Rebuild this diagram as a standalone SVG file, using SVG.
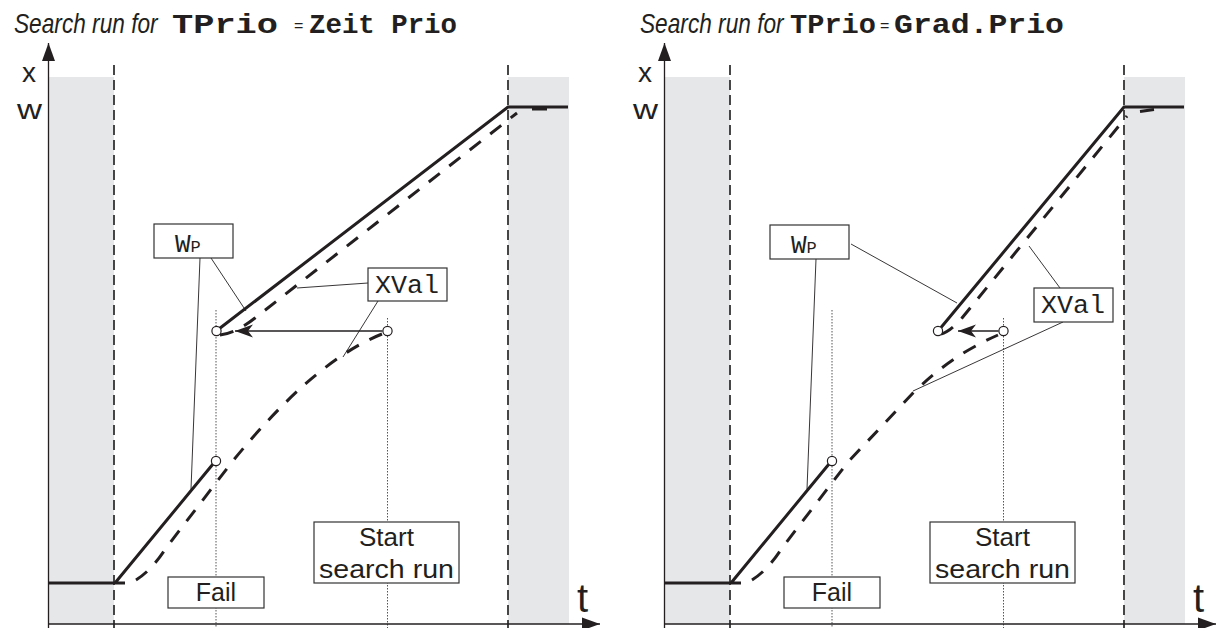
<svg xmlns="http://www.w3.org/2000/svg" width="1221" height="628" viewBox="0 0 1221 628">
<style>
.band{fill:#e6e7e8}
.axis{stroke:#231f20;stroke-width:1.3;fill:none}
.vdash{stroke:#333;stroke-width:1.8;stroke-dasharray:10 5;fill:none}
.vdot{stroke:#555;stroke-width:1;stroke-dasharray:1.5 1.5;fill:none}
.wp{stroke:#231f20;stroke-width:3;fill:none}
.xv{stroke:#231f20;stroke-width:3;fill:none;stroke-dasharray:14 12}
.mark{stroke:#231f20;stroke-width:3;fill:none}
.lead{stroke:#231f20;stroke-width:0.9;fill:none}
.arr{stroke:#231f20;stroke-width:1.3;fill:none}
.pt{fill:#fff;stroke:#231f20;stroke-width:1.2}
.box{fill:#fff;stroke:#333;stroke-width:1.2}
.sans{font-family:"Liberation Sans",Arial,sans-serif;fill:#231f20}
.ital{font-family:"Liberation Sans",Arial,sans-serif;font-style:italic;fill:#231f20}
.mono{font-family:"Liberation Mono","DejaVu Sans Mono",monospace;fill:#231f20}
</style>
<defs>
<marker id="axhead" markerUnits="userSpaceOnUse" markerWidth="20" markerHeight="16" viewBox="-19 -8 20 16" refX="0" refY="0" orient="auto">
<path d="M0,0 L-18,-6.5 L-18,6.5 Z" fill="#231f20"/>
</marker>
<marker id="shead" markerUnits="userSpaceOnUse" markerWidth="20" markerHeight="16" viewBox="-19 -8 20 16" refX="0" refY="0" orient="auto">
<path d="M0,0 L-18,-6.5 L-13,0 L-18,6.5 Z" fill="#231f20"/>
</marker>
</defs>

<!-- LEFT PANEL -->
<g id="panel-left">
<text class="ital" transform="translate(14 33) scale(0.84 1)" x="0" y="0" font-size="27">Search run for</text>
<text class="mono" x="172" y="33" font-size="28" font-weight="bold" textLength="106" lengthAdjust="spacingAndGlyphs">TPrio</text>
<text class="sans" x="294" y="31" font-size="16">=</text>
<text class="mono" x="309" y="33" font-size="28" font-weight="bold" textLength="148" lengthAdjust="spacingAndGlyphs">Zeit Prio</text>
<rect class="band" x="48" y="77" width="66" height="547"/>
<rect class="band" x="508" y="77" width="61" height="547"/>
<line class="vdash" x1="114" y1="65" x2="114" y2="628"/>
<line class="vdash" x1="508" y1="65" x2="508" y2="628"/>
<line class="vdot" x1="216" y1="310" x2="216" y2="628"/>
<line class="vdot" x1="387.5" y1="318" x2="387.5" y2="628"/>
<line class="axis" x1="48.5" y1="628" x2="48.5" y2="43" marker-end="url(#axhead)"/>
<line class="axis" x1="48" y1="624" x2="600" y2="624" marker-end="url(#axhead)"/>
<text class="sans" x="22" y="82" font-size="28">x</text>
<text class="sans" x="17" y="119" font-size="28" textLength="25" lengthAdjust="spacingAndGlyphs">w</text>
<text class="sans" x="577" y="612" font-size="40">t</text>
<path class="wp" d="M48 583 L125 583 M115 583 L213 464 M219.5 328.5 L508 107 L568 107"/>
<path class="xv" d="M136 580 Q152 570 166 548 L232 462 C258 430 282 405 304 385 C326 366 352 346 382 334"/>
<path class="xv" d="M220 335 Q236 333 255 318 L517 113"/>
<line class="mark" x1="532" y1="109" x2="547" y2="109"/>
</g>

<!-- RIGHT PANEL -->
<g id="panel-right">
<text class="ital" transform="translate(640 33) scale(0.84 1)" x="0" y="0" font-size="27">Search run for</text>
<text class="mono" x="790" y="33" font-size="28" font-weight="bold" textLength="86" lengthAdjust="spacingAndGlyphs">TPrio</text>
<text class="sans" x="880" y="31" font-size="16">=</text>
<text class="mono" x="894" y="33" font-size="28" font-weight="bold" textLength="170" lengthAdjust="spacingAndGlyphs">Grad.Prio</text>
<rect class="band" x="664" y="77" width="66" height="547"/>
<rect class="band" x="1124" y="77" width="61" height="547"/>
<line class="vdash" x1="730" y1="65" x2="730" y2="628"/>
<line class="vdash" x1="1124" y1="65" x2="1124" y2="628"/>
<line class="vdot" x1="832" y1="310" x2="832" y2="628"/>
<line class="vdot" x1="1003.5" y1="318" x2="1003.5" y2="628"/>
<line class="axis" x1="664.5" y1="628" x2="664.5" y2="43" marker-end="url(#axhead)"/>
<line class="axis" x1="664" y1="624" x2="1216" y2="624" marker-end="url(#axhead)"/>
<text class="sans" x="638" y="82" font-size="28">x</text>
<text class="sans" x="633" y="119" font-size="28" textLength="25" lengthAdjust="spacingAndGlyphs">w</text>
<text class="sans" x="1193" y="612" font-size="40">t</text>
<path class="wp" d="M664 583 L741 583 M731 583 L829 464 M941 327.5 L1124 107 L1184 107"/>
<path class="xv" d="M752 580 Q768 570 782 548 L848 462 L913 393 C938 369 962 351 998 335"/>
<path class="xv" d="M941 334 Q950 332 962 318 L1127 116"/>
<line class="mark" x1="1140" y1="111.5" x2="1154" y2="109.5"/>
</g>

<!-- CONNECTORS -->
<g id="connectors">
<line class="lead" x1="200" y1="258" x2="191" y2="489"/>
<line class="lead" x1="211" y1="258" x2="246" y2="311"/>
<line class="lead" x1="368" y1="283" x2="297" y2="288"/>
<line class="lead" x1="378" y1="301" x2="343" y2="357"/>
<line class="arr" x1="382.5" y1="331" x2="235" y2="331" marker-end="url(#shead)"/>
<line class="lead" x1="816" y1="259" x2="807" y2="489"/>
<line class="lead" x1="851" y1="244" x2="957" y2="303"/>
<line class="lead" x1="1060" y1="288" x2="1029" y2="246"/>
<line class="lead" x1="1063" y1="322" x2="913" y2="391"/>
<line class="arr" x1="998.5" y1="331" x2="958" y2="331" marker-end="url(#shead)"/>
</g>

<!-- NODES -->
<g id="pt-left-low"><circle class="pt" cx="216" cy="461" r="4.6"/></g>
<g id="pt-left-fail"><circle class="pt" cx="216.5" cy="331" r="4.6"/></g>
<g id="pt-left-start"><circle class="pt" cx="387.5" cy="331" r="4.6"/></g>
<g id="pt-right-low"><circle class="pt" cx="832" cy="461" r="4.6"/></g>
<g id="pt-right-fail"><circle class="pt" cx="938" cy="331" r="4.6"/></g>
<g id="pt-right-start"><circle class="pt" cx="1003.5" cy="331" r="4.6"/></g>

<g id="wp-left"><rect class="box" x="154" y="224" width="79" height="34"/><text class="mono" x="175" y="252" font-size="26">W<tspan font-size="17">P</tspan></text></g>
<g id="xval-left"><rect class="box" x="368" y="268" width="79" height="33"/><text class="mono" x="375" y="293" font-size="26" textLength="64" lengthAdjust="spacingAndGlyphs">XVal</text></g>
<g id="fail-left"><rect class="box" x="168" y="577" width="96" height="31"/><text class="sans" x="216" y="601" font-size="25" text-anchor="middle">Fail</text></g>
<g id="start-left"><rect class="box" x="314" y="522" width="145" height="61"/><text class="sans" x="386.5" y="546" font-size="26" text-anchor="middle">Start</text><text class="sans" x="386.5" y="578" font-size="26" text-anchor="middle" textLength="135" lengthAdjust="spacingAndGlyphs">search run</text></g>

<g id="wp-right"><rect class="box" x="770" y="225" width="79" height="34"/><text class="mono" x="791" y="253" font-size="26">W<tspan font-size="17">P</tspan></text></g>
<g id="xval-right"><rect class="box" x="1034" y="288" width="79" height="34"/><text class="mono" x="1041" y="313" font-size="26" textLength="64" lengthAdjust="spacingAndGlyphs">XVal</text></g>
<g id="fail-right"><rect class="box" x="784" y="577" width="96" height="31"/><text class="sans" x="832" y="601" font-size="25" text-anchor="middle">Fail</text></g>
<g id="start-right"><rect class="box" x="930" y="522" width="145" height="61"/><text class="sans" x="1002.5" y="546" font-size="26" text-anchor="middle">Start</text><text class="sans" x="1002.5" y="578" font-size="26" text-anchor="middle" textLength="135" lengthAdjust="spacingAndGlyphs">search run</text></g>
</svg>
